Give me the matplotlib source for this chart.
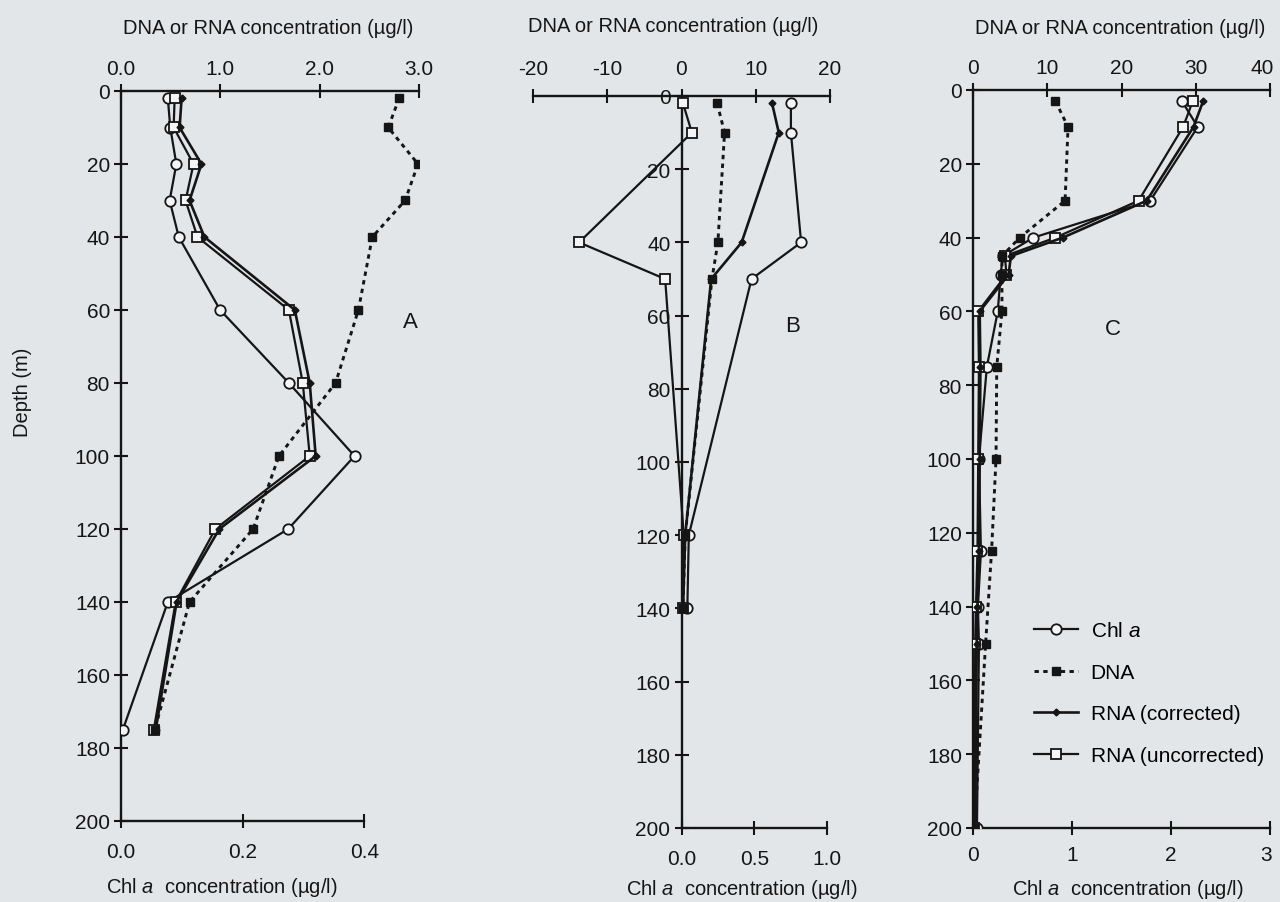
import numpy as np
import matplotlib
matplotlib.use('Agg')
import matplotlib.pyplot as plt
from matplotlib.transforms import ScaledTranslation

plt.rcParams['font.family'] = ['Liberation Sans', 'DejaVu Sans']
plt.rcParams['mathtext.fontset'] = 'custom'
plt.rcParams['mathtext.rm'] = 'Liberation Sans'
plt.rcParams['mathtext.it'] = 'Liberation Sans:italic'

bg = '#e3e6e9'
ink = '#151515'

# ---- panel A ----
a_depth = [2, 10, 20, 30, 40, 60, 80, 100, 120, 140, 175]
a_chl = [0.077, 0.081, 0.091, 0.080, 0.095, 0.163, 0.276, 0.384, 0.275, 0.077, 0.003]
a_dna = [2.80, 2.69, 2.99, 2.86, 2.53, 2.39, 2.16, 1.59, 1.33, 0.69, 0.34]
a_rna_corr = [0.61, 0.59, 0.81, 0.69, 0.84, 1.75, 1.90, 1.96, 0.99, 0.56, 0.35]
a_rna_unc = [0.54, 0.53, 0.73, 0.65, 0.77, 1.69, 1.83, 1.90, 0.95, 0.55, 0.33]

# ---- panel B ----
b_depth = [2, 10, 40, 50, 120, 140]
b_chl = [0.75, 0.75, 0.82, 0.48, 0.05, 0.04]
b_dna = [4.8, 5.8, 4.9, 4.1, 0.5, 0.2]
b_rna_corr = [12.2, 13.1, 8.1, 4.0, 0.5, 0.2]
b_rna_unc = [0.2, 1.4, -13.8, -2.2, 0.3, 0.2]

# ---- panel C ----
c_depth = [3, 10, 30, 40, 45, 50, 60, 75, 100, 125, 140, 150, 200]
c_chl = [2.11, 2.27, 1.79, 0.61, 0.30, 0.28, 0.25, 0.14, 0.06, 0.08, 0.05, 0.06, 0.04]
c_dna_depth = [3, 10, 30, 40, 45, 50, 60, 75, 100, 125, 150, 200]
c_dna = [11.1, 12.8, 12.4, 6.3, 3.9, 3.9, 3.9, 3.2, 3.1, 2.5, 1.7, 0.2]
c_rna_corr = [31.0, 29.7, 23.4, 12.1, 5.1, 4.8, 0.9, 1.0, 0.9, 0.8, 0.6, 0.5, 0.3]
c_rna_unc = [29.6, 28.3, 22.3, 11.1, 4.3, 4.5, 0.7, 0.8, 0.7, 0.6, 0.4, 0.3, 0.2]

depth_ticks = list(range(0, 201, 20))

W, H = 1280, 903
fig = plt.figure(figsize=(12.8, 9.03), dpi=100, facecolor=bg)


def add_panel(x0, x1, y0, y1, top_pad=4, bottom_pad=10):
    ax = fig.add_axes([x0 / W, 1 - y1 / H, (x1 - x0) / W, (y1 - y0) / H])
    ax.set_facecolor('none')
    top = ax.twiny()
    top.set_facecolor('none')
    ax.set_ylim(200, 0)
    ax.set_yticks(depth_ticks)
    ax.set_yticklabels([str(d) for d in depth_ticks])
    for s in ['top', 'right']:
        ax.spines[s].set_visible(False)
    for s in ['bottom', 'left', 'right']:
        top.spines[s].set_visible(False)
    for a in (ax, top):
        for s in a.spines.values():
            s.set_linewidth(1.7)
            s.set_color(ink)
        a.tick_params(direction='inout', length=10, width=1.5, labelsize=15,
                      colors=ink)
    ax.tick_params(axis='y', pad=3)
    ax.tick_params(axis='x', pad=bottom_pad)
    top.tick_params(axis='x', pad=top_pad)
    return ax, top


def draw(ax, top, dep, chl, dna_dep, dna, rna_c, rna_u):
    top.plot(rna_u, dep, color=ink, lw=1.6, marker='s', ms=7,
             mfc='#f4f5f6', mec=ink, mew=1.3, label='RNA (uncorrected)', zorder=3)
    top.plot(rna_c, dep, color=ink, lw=1.9, marker='D', ms=3.5,
             mfc=ink, mec=ink, label='RNA (corrected)', zorder=4)
    top.plot(dna, dna_dep, color=ink, lw=2.1, ls=(0, (1.5, 1.5)), marker='s', ms=5.5,
             mfc=ink, mec=ink, label='DNA', zorder=4)
    ax.plot(chl, dep, color=ink, lw=1.6, marker='o', ms=7.5,
            mfc='#f4f5f6', mec=ink, mew=1.3, label='Chl $\\mathit{a}$', zorder=5)


# panel A
axA, topA = add_panel(121, 419, 92, 822)
axA.set_xlim(0, 0.49)
axA.set_xticks([0.0, 0.2, 0.4])
axA.set_xticklabels(['0.0', '0.2', '0.4'])
axA.spines['bottom'].set_bounds(0, 0.4)
topA.set_xlim(0, 3.0)
topA.set_xticks([0, 1, 2, 3])
topA.set_xticklabels(['0.0', '1.0', '2.0', '3.0'])
topA.set_ylim(200, 0)
draw(axA, topA, a_depth, a_chl, a_depth, a_dna, a_rna_corr, a_rna_unc)

# panel B
axB, topB = add_panel(533, 830, 97, 829, top_pad=8)
axB.set_xlim(-1.018, 1.018)
axB.set_xticks([0.0, 0.5, 1.0])
axB.set_xticklabels(['0.0', '0.5', '1.0'])
axB.spines['bottom'].set_bounds(0, 1.0)
axB.spines['left'].set_position(('data', 0))
topB.set_xlim(-20, 20)
topB.set_xticks([-20, -10, 0, 10, 20])
topB.set_xticklabels(['-20', '-10', '0', '10', '20'])
topB.set_ylim(200, 0)
draw(axB, topB, b_depth, b_chl, b_depth, b_dna, b_rna_corr, b_rna_unc)

# panel C
axC, topC = add_panel(973, 1270, 91, 829, bottom_pad=7)
axC.set_xlim(0, 3)
axC.set_xticks([0, 1, 2, 3])
topC.set_xlim(0, 40)
topC.set_xticks([0, 10, 20, 30, 40])
topC.set_ylim(200, 0)
draw(axC, topC, c_depth, c_chl, c_dna_depth, c_dna, c_rna_corr, c_rna_unc)

# keep the right-most tick labels inside the page
topC.get_xticklabels()[-1].set_transform(
    topC.get_xticklabels()[-1].get_transform() + ScaledTranslation(-8 / 100, 0, fig.dpi_scale_trans))
axC.get_xticklabels()[-1].set_transform(
    axC.get_xticklabels()[-1].get_transform() + ScaledTranslation(-4 / 100, 0, fig.dpi_scale_trans))

hC, lC = axC.get_legend_handles_labels()
hT, lT = topC.get_legend_handles_labels()
handles = [hC[0], hT[2], hT[1], hT[0]]
labels = [lC[0], lT[2], lT[1], lT[0]]
fig.legend(handles, labels, loc='upper left',
           bbox_to_anchor=(1026 / W, 1 - 614 / H), bbox_transform=fig.transFigure,
           frameon=False, fontsize=15, handlelength=2.1, handletextpad=0.6,
           labelspacing=1.08, borderaxespad=0, borderpad=0.4)

# axis titles
for cx, cy in [(268, 29), (673, 27), (1120, 29)]:
    fig.text(cx / W, 1 - cy / H, 'DNA or RNA concentration (\u00b5g/l)',
             ha='center', va='center', fontsize=14.5, color=ink)
for cx, cy in [(222, 888), (742, 890), (1128, 890)]:
    fig.text(cx / W, 1 - cy / H, 'Chl $\\mathit{a}$  concentration (\u00b5g/l)',
             ha='center', va='center', fontsize=14.5, color=ink)
fig.text(23 / W, 1 - 392 / H, 'Depth (m)', rotation=90, ha='center', va='center',
         fontsize=14.5, color=ink)

for letter, cx, cy in [('A', 410, 323), ('B', 793, 327), ('C', 1113, 330)]:
    fig.text(cx / W, 1 - cy / H, letter, ha='center', va='center', fontsize=16, color=ink)

fig.savefig('out.png', dpi=100, facecolor=bg)
